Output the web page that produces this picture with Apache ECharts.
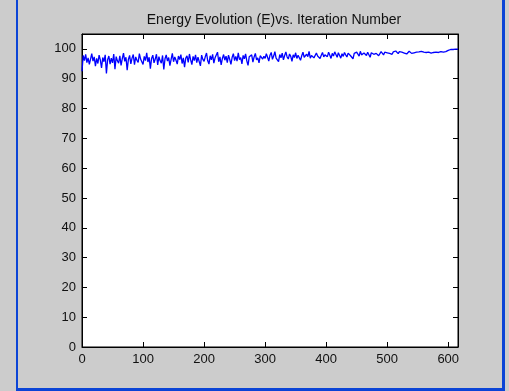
<!DOCTYPE html>
<html>
<head>
<meta charset="utf-8">
<script src="https://cdn.jsdelivr.net/npm/echarts@6/dist/echarts.min.js"></script>
<style>
html,body{margin:0;padding:0;background:#cccccc;}
#c{width:509px;height:391px;}
</style>
</head>
<body>
<div id="c"></div>
<script>
var seg0 = [92.5,97.8,96.1,98.2,95.4,97.0,94.8,96.6,98.4,95.9,
97.3,94.2,96.8,95.1,97.9,96.3,93.6,97.1,95.7,98.0,
91.8,96.4,97.6,94.9,96.9,95.3,98.3,93.2,97.4,96.0,
95.2,97.7,94.5,96.7,98.6,95.8,97.2,92.9,96.5,97.8,
95.0,96.9,98.1,94.7,97.3,96.2,95.5,98.4,96.6,97.0];
var seg1 = [94.8,97.5,96.1,98.7,95.6,97.2,93.4,96.8,97.9,95.3,
96.6,98.2,94.6,97.4,96.0,95.2,97.8,93.1,96.7,98.0,
95.9,97.1,94.4,96.5,98.5,95.7,97.3,96.2,94.9,97.6,
96.4,98.1,95.1,97.0,93.9,96.9,97.7,95.5,98.3,96.3,
94.7,97.5,96.1,98.0,95.4,97.2,96.8,94.3,97.9,96.5];
var seg2 = [95.8,97.4,98.6,96.0,94.9,97.7,96.3,98.2,95.2,97.0,
96.6,98.9,95.7,97.3,94.6,96.8,98.1,96.2,97.6,95.4,
97.9,96.5,94.8,97.2,98.4,96.1,97.5,95.9,98.7,96.4,
97.1,95.0,97.8,96.7,98.3,96.0,94.5,97.4,96.9,98.0,
95.6,97.3,98.5,96.3,97.0,95.3,97.7,98.2,96.6,97.5];
var seg3 = [96.8,98.4,97.2,95.9,97.9,98.8,96.5,97.6,99.1,96.9,
97.4,95.7,98.1,97.0,98.6,96.3,97.8,99.0,97.3,96.6,
98.3,97.5,95.8,98.0,97.1,98.7,96.8,97.9,98.5,96.2,
97.7,98.9,97.2,96.7,98.2,97.4,99.2,96.9,97.8,98.4,
97.0,96.4,98.6,97.6,98.1,96.8,97.9,98.8,97.3,98.0];
var seg4 = [98.3,97.4,98.9,97.9,96.8,98.5,97.6,99.0,98.1,97.2,
98.7,97.8,96.9,98.4,97.5,98.8,98.0,97.3,98.6,99.1,
97.7,98.2,96.7,98.5,97.9,98.9,98.3,97.6,99.2,98.0,
97.4,98.6,98.1,97.8,98.9,98.4,97.2,98.7,99.0,98.2,
97.9,98.5,98.8,97.7,98.3,99.1,98.6,98.0,98.9,98.4];
var seg5 = [98.7,99.2,98.5,98.9,98.2,99.0,98.6,99.3,98.8,98.4,
99.1,98.7,98.9,99.4,98.6,99.0,98.3,98.8,99.2,98.9,
98.5,99.1,98.7,99.3,98.9,98.6,99.0,98.8,99.2,98.7,
98.9,98.6,98.8,98.7,98.9,98.8,98.6,98.9,98.8,98.7,
98.9,99.0,98.8,98.9,99.1,99.0,98.9,99.2,99.1,99.3];
var seg6 = [99.5,99.7,99.8,99.9,99.8,99.9,99.9,99.8,99.9];
var sampleStep = 2;
var xTicks = [0,100,200,300,400,500,600];
var yTicks = [0,10,20,30,40,50,60,70,80,90,100];

var energy = seg0.concat(seg1, seg2, seg3, seg4, seg5, seg6);
var points = energy.map(function (v, i) { return [i * sampleStep, v]; });

var chart = echarts.init(document.getElementById('c'), null, {renderer: 'canvas'});
var font = 'Liberation Sans, Arial, Helvetica, sans-serif';
function ax(pos, show, mn, mx, iv, margin) {
  return {
    type: 'value', position: pos, min: mn, max: mx, interval: iv,
    axisLine: {show: true, onZero: false, lineStyle: {color: '#000', width: 1}},
    axisTick: {show: true, inside: true, length: 5, lineStyle: {color: '#000'}},
    axisLabel: {show: show, color: '#111', fontFamily: font, fontSize: 13,
      showMaxLabel: false, margin: margin},
    splitLine: {show: false}
  };
}
chart.setOption({
  backgroundColor: '#cccccc',
  animation: false,
  title: {text: 'Energy Evolution (E)vs. Iteration Number', left: 269, top: 8,
    textAlign: 'center',
    textStyle: {fontFamily: font, fontSize: 14, fontWeight: 'normal', color: '#111'}},
  grid: {left: 82, right: 51, top: 34, bottom: 44, show: true,
    backgroundColor: '#ffffff', borderColor: '#000', borderWidth: 1},
  xAxis: [ax('bottom', true, 0, 616, 100, 6), ax('top', false, 0, 616, 100, 6)],
  yAxis: [ax('left', true, 0, 105, 10, 6), ax('right', false, 0, 105, 10, 6)],
  graphic: [
    {type: 'rect', shape: {x: 16, y: 0, width: 2, height: 391}, style: {fill: '#0b44d6'}},
    {type: 'rect', shape: {x: 502, y: 0, width: 3, height: 391}, style: {fill: '#0b44d6'}},
    {type: 'rect', shape: {x: 16, y: 388, width: 489, height: 3}, style: {fill: '#0b44d6'}}
  ],
  series: [{
    type: 'line', data: points, showSymbol: false, symbol: 'none',
    lineStyle: {color: '#0000ff', width: 1.3}, xAxisIndex: 0, yAxisIndex: 0
  }]
});
</script>
</body>
</html>
